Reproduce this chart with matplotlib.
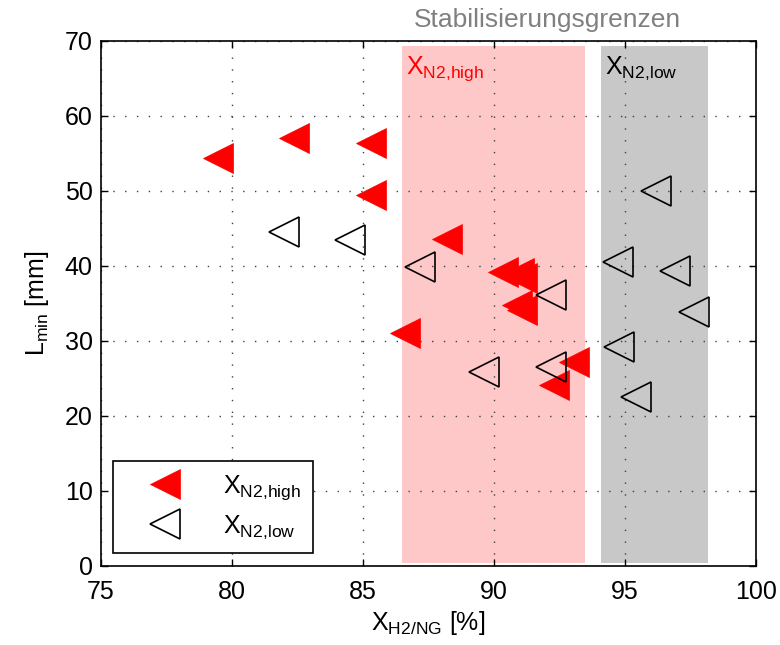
import matplotlib
matplotlib.use("Agg")
import matplotlib.pyplot as plt

plt.rcParams['font.family'] = ['Liberation Sans', 'DejaVu Sans']
plt.rcParams['mathtext.fontset'] = 'custom'
plt.rcParams['mathtext.rm'] = 'Liberation Sans'
plt.rcParams['mathtext.it'] = 'Liberation Sans'

# N2 high (filled red)
high_x = [79.45, 82.37, 85.29, 85.29, 88.21, 90.34, 90.95, 91.07, 90.9, 91.07, 86.62, 93.07, 92.31]
high_y = [54.3, 57.0, 56.4, 49.4, 43.5, 39.1, 39.0, 38.4, 34.8, 34.1, 31.0, 27.2, 24.1]

# N2 low (open black)
low_x = [82.0, 84.52, 87.18, 92.19, 89.64, 92.18, 96.18, 94.75, 96.93, 97.63, 94.77, 95.42]
low_y = [44.5, 43.4, 39.8, 36.1, 25.8, 26.5, 49.9, 40.5, 39.3, 33.8, 29.1, 22.5]

# Stabilisierungsgrenzen
high_band = (86.49, 93.46)
low_band = (94.08, 98.17)
band_y = (0.4, 69.3)

lbl_high = r'X$_{\mathregular{N2{,}high}}$'
lbl_low = r'X$_{\mathregular{N2{,}low}}$'

fig = plt.figure(figsize=(7.8, 6.45), dpi=100)
ax = fig.add_axes([0.1295, 0.123, 0.8395, 0.814])

ax.fill_between(high_band, band_y[0], band_y[1], color='#ffc8c8', lw=0, zorder=0)
ax.fill_between(low_band, band_y[0], band_y[1], color='#c8c8c8', lw=0, zorder=0)

ax.plot(high_x, high_y, '<', ms=22, mfc='red', mec='red', mew=0.5,
        label=lbl_high, zorder=3)
ax.plot(low_x, low_y, '<', ms=22, mfc='none', mec='black', mew=1.2,
        label=lbl_low, zorder=3)

ax.text(high_band[0] + 0.15, 66.3, lbl_high, color='red', fontsize=18, va='center')
ax.text(low_band[0] + 0.15, 66.3, lbl_low, color='black', fontsize=18, va='center')
ax.text(92.06, 72.8, 'Stabilisierungsgrenzen', color='#808080', fontsize=19,
        ha='center', va='center', clip_on=False)

ax.set_xlim(75, 100)
ax.set_ylim(0, 70)
ax.set_xticks(range(75, 101, 5))
ax.set_yticks(range(0, 71, 10))
ax.tick_params(direction='in', labelsize=18, top=True, right=True, length=5, width=1)
ax.tick_params(axis='x', pad=10)
ax.tick_params(axis='y', pad=6)
ax.grid(True, linestyle=(0, (1, 7.5)), color='#404040', linewidth=1)
for s in ax.spines.values():
    s.set_linewidth(1.2)

ax.set_xlabel(r'X$_{\mathregular{H2/NG}}$ [%]', fontsize=18, labelpad=4)
ax.set_ylabel(r'L$_{\mathregular{min}}$ [mm]', fontsize=18, labelpad=10)

leg = ax.legend(loc='lower left', bbox_to_anchor=(0.018, 0.024), fontsize=18,
                fancybox=False, framealpha=1, edgecolor='black',
                handletextpad=0.7, borderpad=0.5, labelspacing=0.45,
                handlelength=3.2, borderaxespad=0)
leg.get_frame().set_linewidth(1.2)

fig.savefig('out.png', dpi=100)
